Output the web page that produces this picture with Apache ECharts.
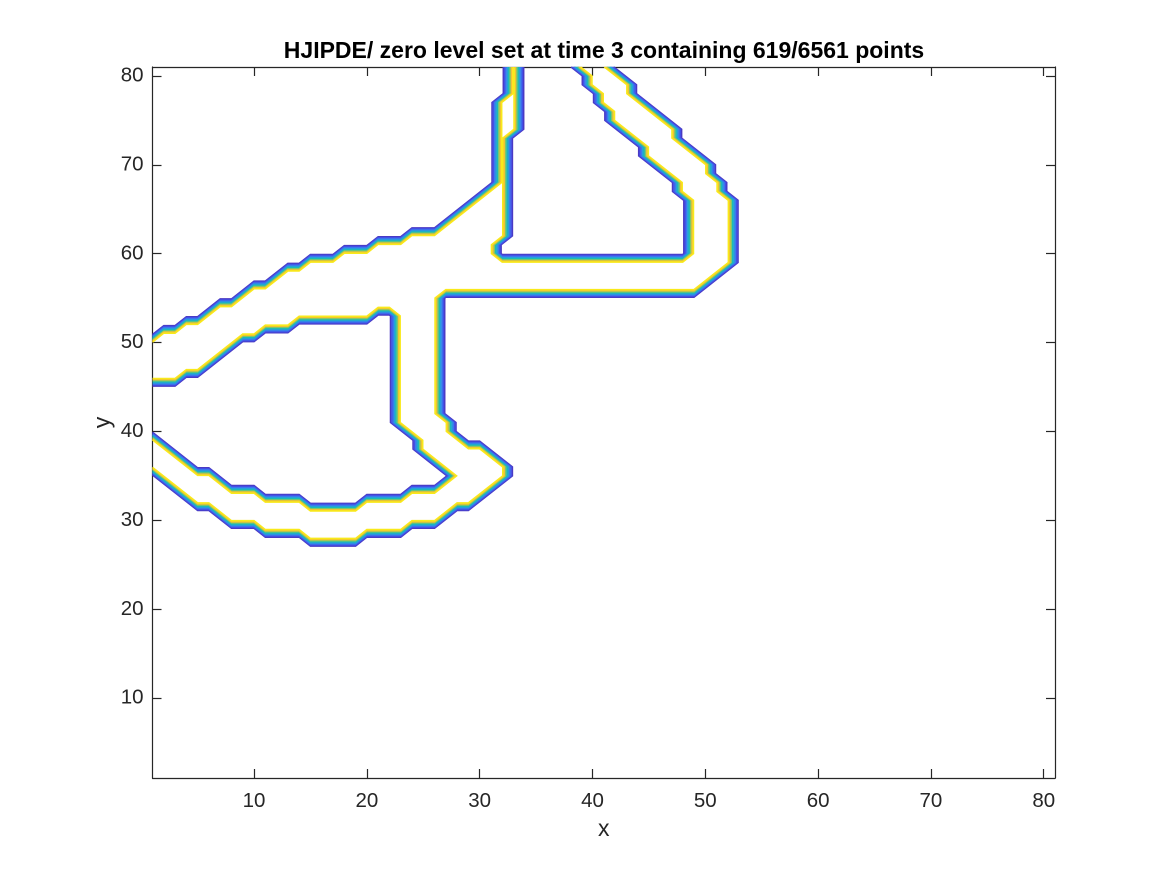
<!DOCTYPE html>
<html>
<head>
<meta charset="utf-8">
<style>html,body{margin:0;padding:0;background:#fff}#c{width:1167px;height:875px}</style>
<script src="https://cdn.jsdelivr.net/npm/echarts@6/dist/echarts.min.js"></script>
</head>
<body>
<div id="c"></div>
<script>
// Vertices of the outermost (blue) contour: [x, y, side].
// side = direction in which that vertex moves across the band, towards the yellow contour.
// The intermediate contour levels are derived between the read blue and yellow edges,
// the way a contour plot places its levels; they are not individually read.
const curveA = [[32.1,81,'r'],[32.1,78,'r'],[31.1,77,'r'],[31.1,68,'r'],
  [26,62.9,'d'],[24,62.9,'d'],[23,61.9,'d'],[21,61.9,'d'],[20,60.9,'d'],[18,60.9,'d'],
  [17,59.9,'d'],[15,59.9,'d'],[14,58.9,'d'],[13,58.9,'d'],[11,56.9,'d'],[10,56.9,'d'],
  [8,54.9,'d'],[7,54.9,'d'],[5,52.9,'d'],[4,52.9,'d'],[3,51.9,'d'],[2,51.9,'d'],[1,50.9,'d']];
const curveB = [[38.1,81,'r'],[39.1,80,'r'],[39.1,79,'r'],[40.1,78,'r'],[40.1,77,'r'],
  [41.1,76,'r'],[41.1,75,'r'],[44.1,72,'r'],[44.1,71,'r'],[47.1,68,'r'],[47.1,67,'r'],
  [48.1,66,'r'],[48.1,60,'r'],[48,59.9,'d'],[32,59.9,'d'],[31.9,60,'l'],[31.9,61,'l'],
  [32.9,62,'l'],[32.9,73,'l'],[33.9,74,'l'],[33.9,81,'l']];
const curveC = [[41.9,81,'l'],[43.9,79,'l'],[43.9,78,'l'],[47.9,74,'l'],[47.9,73,'l'],
  [50.9,70,'l'],[50.9,69,'l'],[51.9,68,'l'],[51.9,67,'l'],[52.9,66,'l'],[52.9,59,'l'],
  [49,55.1,'u'],[27,55.1,'u'],[26.9,55,'l'],[26.9,42,'l'],[27.9,41,'l'],[27.9,40,'l'],
  [29,38.9,'d'],[30,38.9,'d'],[32.9,36,'l'],[32.9,35,'l'],[29,31.1,'u'],[28,31.1,'u'],
  [26,29.1,'u'],[24,29.1,'u'],[23,28.1,'u'],[20,28.1,'u'],[19,27.1,'u'],[15,27.1,'u'],
  [14,28.1,'u'],[11,28.1,'u'],[10,29.1,'u'],[8,29.1,'u'],[6,31.1,'u'],[5,31.1,'u'],[1,35.1,'u']];
const curveD = [[1,45.1,'u'],[3,45.1,'u'],[4,46.1,'u'],[5,46.1,'u'],[9,50.1,'u'],[10,50.1,'u'],
  [11,51.1,'u'],[13,51.1,'u'],[14,52.1,'u'],[20,52.1,'u'],[21,53.1,'u'],[22,53.1,'u'],
  [22.1,53,'r'],[22.1,41,'r'],[24.1,39,'r'],[24.1,38,'r'],[27.1,35,'r'],
  [26,33.9,'d'],[24,33.9,'d'],[23,32.9,'d'],[20,32.9,'d'],[19,31.9,'d'],[15,31.9,'d'],
  [14,32.9,'d'],[11,32.9,'d'],[10,33.9,'d'],[8,33.9,'d'],[6,35.9,'d'],[5,35.9,'d'],[1,39.9,'d']];
const curves = [curveA, curveB, curveC, curveD];

const bandWidth = 0.85;
const levelColors = ['#4a3ac4','#4350e6','#3a78ee','#259fdc','#1bbab6','#7cc76c','#f0c233','#f9e91a'];
const tickValues = [10,20,30,40,50,60,70,80];
const titleText = 'HJIPDE/ zero level set at time 3 containing 619/6561 points';

const sideVec = {r:[1,0], l:[-1,0], u:[0,1], d:[0,-1]};
const series = [];
levelColors.forEach((color, k) => {
  const f = bandWidth * k / (levelColors.length - 1);
  // The 'lines' polyline keeps vertices under 2px apart, which the 'line' series merges away.
  series.push({
    type: 'lines', coordinateSystem: 'cartesian2d', polyline: true, silent: true, animation: false,
    lineStyle: {color, width: 1.6, opacity: 1, curveness: 0, cap: 'butt', join: 'miter'},
    data: curves.map(curve => ({
      coords: curve.map(([x, y, s]) => [x + sideVec[s][0] * f, y + sideVec[s][1] * f])
    }))
  });
});

const ink = '#262626';
const font = '"Liberation Sans", Arial, sans-serif';
function axis(extra) {
  return Object.assign({
    type: 'value', min: 1, max: 81, splitLine: {show: false},
    axisLine: {show: true, onZero: false, lineStyle: {color: ink, width: 1.2}},
    axisTick: {show: true, inside: true, length: 9, customValues: tickValues, lineStyle: {color: ink, width: 1.2}},
    axisLabel: {show: false}
  }, extra);
}
function labelled(margin) {
  return {show: true, customValues: tickValues, margin, color: ink, fontFamily: font, fontSize: 20.5};
}
const chart = echarts.init(document.getElementById('c'), null, {renderer: 'canvas', devicePixelRatio: 2});
chart.setOption({
  animation: false,
  backgroundColor: '#fff',
  title: {text: titleText, left: 599, top: 35,
    textStyle: {fontFamily: font, fontWeight: 'bold', fontSize: 23, color: '#000'},
    textAlign: 'center'},
  grid: {left: 152.5, top: 67, width: 902.5, height: 711},
  xAxis: [
    axis({position: 'bottom', axisLabel: labelled(13), name: 'x', nameLocation: 'middle', nameGap: 40,
      nameMoveOverlap: false, nameTextStyle: {fontFamily: font, fontSize: 23, color: ink}}),
    axis({position: 'top'})
  ],
  yAxis: [
    axis({position: 'left', axisLabel: labelled(9), name: 'y', nameLocation: 'middle', nameGap: 38,
      nameMoveOverlap: false, nameTextStyle: {fontFamily: font, fontSize: 23, color: ink}}),
    axis({position: 'right'})
  ],
  series
});
</script>
</body>
</html>
